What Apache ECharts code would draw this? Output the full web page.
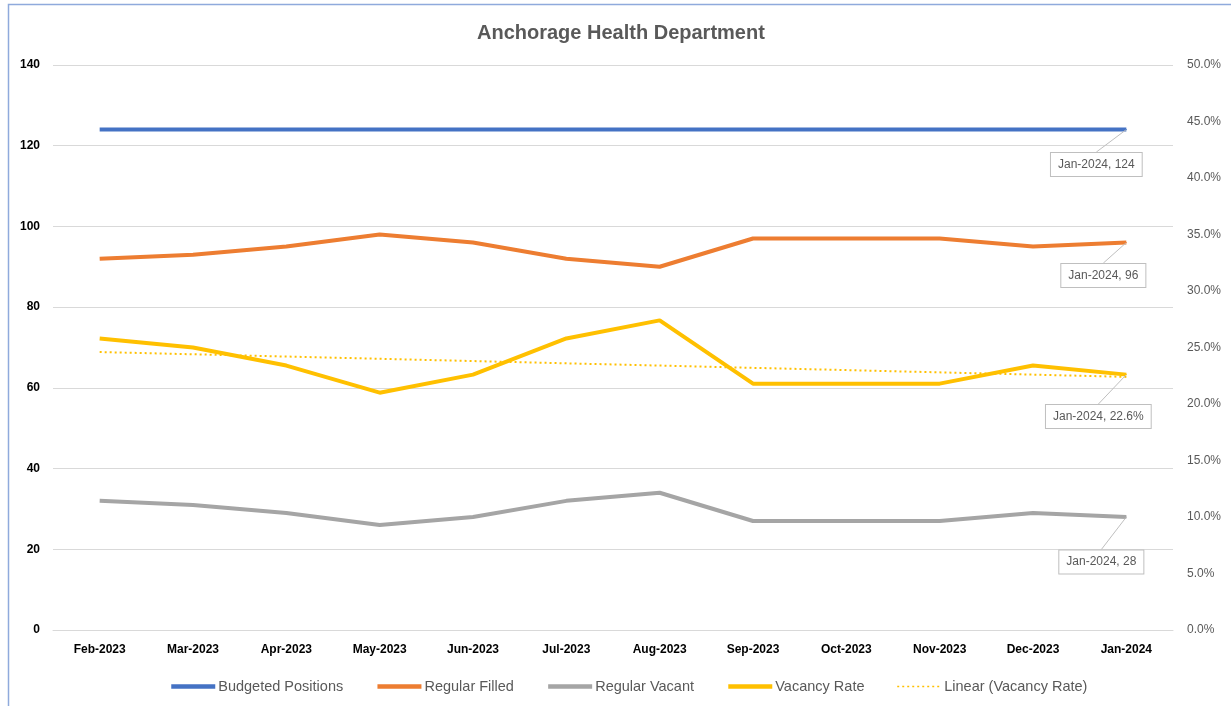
<!DOCTYPE html>
<html>
<head>
<meta charset="utf-8">
<script src="https://cdn.jsdelivr.net/npm/echarts@6/dist/echarts.min.js"></script>
<style>
html,body{margin:0;padding:0;background:#fff;}
#chart{width:1231px;height:706px;}
</style>
</head>
<body>
<div id="chart"></div>
<script>
const categories = ['Feb-2023','Mar-2023','Apr-2023','May-2023','Jun-2023','Jul-2023','Aug-2023','Sep-2023','Oct-2023','Nov-2023','Dec-2023','Jan-2024'];
const budgeted = [124,124,124,124,124,124,124,124,124,124,124,124];
const filled = [92,93,95,98,96,92,90,97,97,97,95,96];
const vacant = [32,31,29,26,28,32,34,27,27,27,29,28];
const vacancyRate = [25.8,25.0,23.4,21.0,22.6,25.8,27.4,21.8,21.8,21.8,23.4,22.6];
const trendRate = [24.6,null,null,null,null,null,null,null,null,null,null,22.4];

const FONT = '"Liberation Sans", Arial, sans-serif';
const lastIdx = categories.length - 1;

function withEndLabel(arr, fmt) {
  return arr.map((v, i) => {
    if (i !== lastIdx) return v;
    return {
      value: v,
      symbol: 'circle',
      symbolSize: 1,
      label: {
        show: true,
        position: 'inside',
        formatter: fmt,
        color: '#595959',
        fontFamily: FONT,
        fontSize: 12,
        backgroundColor: '#ffffff',
        borderColor: '#bfbfbf',
        borderWidth: 1,
        padding: [6, 7, 5, 7]
      },
      labelLine: { show: true, lineStyle: { color: '#bfbfbf', width: 1 } }
    };
  });
}

const chart = echarts.init(document.getElementById('chart'));
chart.setOption({
  animation: false,
  backgroundColor: '#ffffff',
  title: {
    text: 'Anchorage Health Department',
    left: 472,
    top: 18,
    textStyle: { color: '#595959', fontSize: 20, fontWeight: 'bold', fontFamily: FONT }
  },
  graphic: [{
    type: 'rect',
    shape: { x: 8.5, y: 4.5, width: 1240, height: 720 },
    style: { fill: 'none', stroke: '#8faadc', lineWidth: 1.5 },
    silent: true
  }],
  legend: {
    left: 164,
    top: 674,
    itemWidth: 44,
    itemHeight: 4,
    itemGap: 32,
    itemStyle: { opacity: 0 },
    textStyle: { color: '#595959', fontSize: 14.5, fontFamily: FONT, padding: [0, 0, 0, -2] },
    data: [
      { name: 'Budgeted Positions', lineStyle: { width: 4.5 } },
      { name: 'Regular Filled', lineStyle: { width: 4.5 } },
      { name: 'Regular Vacant', lineStyle: { width: 4.5 } },
      { name: 'Vacancy Rate', lineStyle: { width: 4.5 } },
      { name: 'Linear (Vacancy Rate)', lineStyle: { width: 1.5 } }
    ]
  },
  grid: { left: 53, right: 58, top: 65, bottom: 76 },
  xAxis: {
    type: 'category',
    data: categories,
    boundaryGap: true,
    axisLine: { show: true, lineStyle: { color: '#d9d9d9', width: 1 } },
    axisTick: { show: false },
    axisLabel: { color: '#000000', fontWeight: 'bold', fontSize: 12, fontFamily: FONT, margin: 14 }
  },
  yAxis: [{
    type: 'value',
    min: 0, max: 140, interval: 20,
    axisLine: { show: false },
    axisTick: { show: false },
    axisLabel: { color: '#000000', fontWeight: 'bold', fontSize: 12, fontFamily: FONT, margin: 13 },
    splitLine: { lineStyle: { color: '#d9d9d9', width: 1 } }
  }, {
    type: 'value',
    min: 0, max: 50, interval: 5,
    axisLine: { show: false },
    axisTick: { show: false },
    splitLine: { show: false },
    axisLabel: {
      color: '#595959', fontSize: 12, fontFamily: FONT, margin: 14,
      formatter: v => v.toFixed(1) + '%'
    }
  }],
  series: [{
    name: 'Budgeted Positions',
    type: 'line',
    yAxisIndex: 0,
    symbol: 'none',
    color: '#4472c4',
    lineStyle: { color: '#4472c4', width: 4 },
    data: withEndLabel(budgeted, p => p.name + ', ' + p.value),
    labelLayout: { dx: -30, dy: 35 },
    z: 5
  }, {
    name: 'Regular Filled',
    type: 'line',
    yAxisIndex: 0,
    symbol: 'none',
    color: '#ed7d31',
    lineStyle: { color: '#ed7d31', width: 4 },
    data: withEndLabel(filled, p => p.name + ', ' + p.value),
    labelLayout: { dx: -23, dy: 33 },
    z: 4
  }, {
    name: 'Regular Vacant',
    type: 'line',
    yAxisIndex: 0,
    symbol: 'none',
    color: '#a5a5a5',
    lineStyle: { color: '#a5a5a5', width: 4 },
    data: withEndLabel(vacant, p => p.name + ', ' + p.value),
    labelLayout: { dx: -25, dy: 45 },
    z: 3
  }, {
    name: 'Vacancy Rate',
    type: 'line',
    yAxisIndex: 1,
    symbol: 'none',
    color: '#ffc000',
    lineStyle: { color: '#ffc000', width: 4 },
    data: withEndLabel(vacancyRate, p => p.name + ', ' + Number(p.value).toFixed(1) + '%'),
    labelLayout: { dx: -28, dy: 42 },
    z: 3
  }, {
    name: 'Linear (Vacancy Rate)',
    type: 'line',
    yAxisIndex: 1,
    symbol: 'none',
    connectNulls: true,
    color: '#ffc000',
    lineStyle: { color: '#ffc000', width: 2, type: [2, 3] },
    data: trendRate,
    z: 2
  }]
});
</script>
</body>
</html>
